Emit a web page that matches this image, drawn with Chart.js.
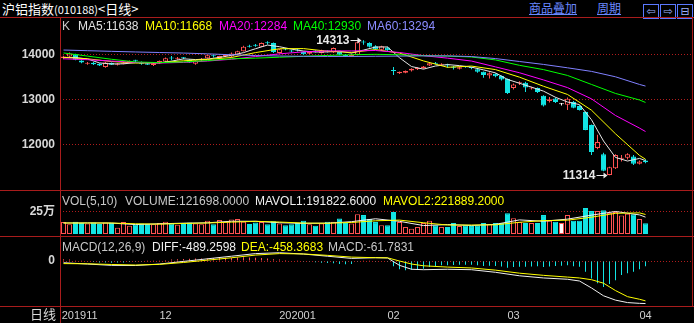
<!DOCTYPE html>
<html>
<head>
<meta charset="utf-8">
<script src="https://cdn.jsdelivr.net/npm/chart.js@4.4.1/dist/chart.umd.min.js"></script>
<style>
body { margin: 0; background: #000; width: 694px; height: 323px; overflow: hidden; position: relative; font-family: "Liberation Sans", Arial, sans-serif; }
canvas { position: absolute; left: 0; }
.txt { position: absolute; font-size: 12px; line-height: 14px; white-space: nowrap; }
.cjk { font-family: "Noto Sans CJK SC", sans-serif; }
.link { color: #6a88ff; text-decoration: underline; font-size: 12px; top: 1px; }
.ico { display: inline-block; width: 14px; height: 13px; border: 1px solid #5a78ff; color: #9fb2ff; font: 11px/13px "DejaVu Sans"; text-align: center; margin-right: 1px; }
.frame { position: absolute; background: #a81c1c; z-index: 5; }
</style>
</head>
<body>
<div class="txt cjk" style="left:2px;top:1px;font-size:13px;line-height:15px;color:#fff">沪铝指数<span style="font-size:11px">(010188)</span>&lt;日线&gt;</div>
<div class="txt cjk link" style="left:529px">商品叠加</div>
<div class="txt cjk link" style="left:597px">周期</div>
<div style="position:absolute;left:643px;top:1px;white-space:nowrap"><span class="ico">⇦</span><span class="ico">⇨</span><span class="ico">⊟</span></div>

<canvas id="mainChart" width="694" height="172" style="top:18px"></canvas>
<canvas id="volChart" width="694" height="45" style="top:191px"></canvas>
<canvas id="macdChart" width="694" height="86" style="top:237px"></canvas>

<div class="txt" style="left:62px;top:19px;color:#c8c8c8">K</div>
<div class="txt" style="left:78px;top:19px;color:#e0e0e0">MA5:11638</div>
<div class="txt" style="left:145px;top:19px;color:#ffff00">MA10:11668</div>
<div class="txt" style="left:219px;top:19px;color:#ff00ff">MA20:12284</div>
<div class="txt" style="left:293px;top:19px;color:#00ff00">MA40:12930</div>
<div class="txt" style="left:367px;top:19px;color:#8c8cff">MA60:13294</div>

<div class="txt" style="left:62px;top:194px;color:#c8c8c8">VOL(5,10)</div>
<div class="txt" style="left:125px;top:194px;color:#c8c8c8">VOLUME:121698.0000</div>
<div class="txt" style="left:255px;top:194px;color:#f0f0f0">MAVOL1:191822.6000</div>
<div class="txt" style="left:383px;top:194px;color:#ffff00">MAVOL2:221889.2000</div>

<div class="txt" style="left:62px;top:240px;color:#c8c8c8">MACD(12,26,9)</div>
<div class="txt" style="left:152px;top:240px;color:#f0f0f0">DIFF:-489.2598</div>
<div class="txt" style="left:241px;top:240px;color:#ffff00">DEA:-458.3683</div>
<div class="txt" style="left:328px;top:240px;color:#c8c8c8">MACD:-61.7831</div>

<div class="txt cjk" style="left:30px;top:307px;font-size:13px;color:#d8d8d8">日线</div>

<div class="frame" style="left:0;top:17px;width:694px;height:1px"></div>
<div class="frame" style="left:0;top:190px;width:694px;height:1px"></div>
<div class="frame" style="left:0;top:236px;width:694px;height:1px"></div>
<div class="frame" style="left:0;top:306px;width:694px;height:1px"></div>
<div class="frame" style="left:60px;top:17px;width:1px;height:306px"></div>
<div class="frame" style="left:692px;top:17px;width:1px;height:289px"></div>

<script>
// daily bars, 2019-11-07 .. 2020-04-01
const opens = [13910,13950,14000,13860,13790,13810,13790,13720,13810,13770,
    13790,13820,13860,13830,13800,13760,13800,13840,13915,13900,
    13915,13880,13790,13860,13910,13965,13920,13960,13950,13990,
    14070,14180,14200,14170,14255,14250,14030,14110,14080,14090,
    14050,14010,14065,14030,14070,14040,14050,13990,13960,13990,
    14280,14250,14180,14100,14150,13645,13580,13590,13640,13670,
    13690,13750,13810,13770,13760,13730,13680,13720,13700,13670,
    13610,13530,13570,13520,13450,13250,13355,13370,13240,13250,
    13080,12960,13020,12890,12880,12940,12850,12720,12430,11920,
    11780,11320,11470,11680,11700,11730,11570,11640];
const highs = [13970,14040,14010,13870,13830,13830,13800,13830,13820,13800,
    13830,13860,13880,13840,13810,13810,13860,13930,13960,13940,
    13940,13890,13870,13920,13990,13990,13970,13990,14040,14080,
    14190,14215,14230,14260,14290,14260,14120,14140,14100,14120,
    14060,14060,14090,14100,14090,14150,14060,14000,14010,14290,
    14313,14270,14200,14190,14170,13720,13620,13640,13690,13710,
    13740,13810,13830,13800,13790,13740,13730,13740,13720,13680,
    13620,13600,13580,13530,13460,13350,13400,13390,13280,13260,
    13090,13050,13040,12920,13040,12960,12870,12730,12440,12210,
    11810,11500,11780,11760,11800,11760,11640,11670];
const lows = [13890,13940,13870,13800,13770,13760,13740,13700,13760,13750,
    13780,13810,13830,13770,13760,13740,13790,13830,13870,13880,
    13890,13810,13770,13850,13900,13930,13900,13940,13930,13980,
    14060,14150,14170,14160,14220,14030,14020,14090,14040,14060,
    13990,14000,14040,14020,14040,14030,13980,13940,13940,13980,
    14210,14150,14100,14080,14080,13540,13560,13580,13620,13650,
    13680,13740,13780,13750,13700,13660,13660,13700,13670,13590,
    13480,13460,13490,13420,13120,13220,13320,13160,13220,13140,
    12840,12930,12920,12860,12760,12800,12750,12310,11760,11890,
    11400,11314,11450,11620,11660,11540,11550,11580];
const closes = [13950,14020,13880,13820,13810,13780,13750,13820,13770,13790,
    13810,13850,13855,13790,13770,13800,13850,13910,13905,13920,
    13910,13820,13860,13900,13980,13955,13960,13965,14020,14070,
    14170,14170,14190,14250,14245,14050,14110,14105,14060,14085,
    14000,14050,14060,14090,14065,14140,13990,13950,13990,14270,
    14265,14170,14110,14180,14090,13630,13610,13630,13680,13700,
    13730,13800,13790,13790,13750,13700,13710,13715,13695,13610,
    13540,13580,13510,13440,13140,13330,13360,13260,13265,13160,
    12860,13000,12940,12890,13010,12810,12760,12320,11830,12050,
    11410,11490,11760,11700,11780,11570,11620,11600];
const volumes = [135000,110000,140000,125000,120000,130000,115000,130000,125000,70000,
    135000,95000,110000,120000,115000,110000,125000,140000,120000,105000,
    125000,130000,120000,110000,150000,110000,160000,140000,165000,170000,
    140000,115000,130000,135000,110000,145000,120000,100000,110000,125000,
    150000,110000,95000,120000,140000,140000,175000,125000,120000,225000,
    215000,170000,135000,100000,100000,250000,135000,80000,60000,80000,
    125000,150000,100000,80000,80000,125000,90000,100000,90000,100000,
    125000,110000,125000,125000,235000,180000,135000,125000,125000,125000,
    215000,150000,140000,125000,215000,150000,150000,295000,260000,260000,
    270000,240000,250000,210000,230000,225000,170000,121698];

// moving averages
const ma5Idx = [0,2,4,6,8,10,12,14,16,18,20,22,24,26,28,30,32,34,36,38,40,42,44,46,48,
    50,52,54,56,58,60,62,64,66,68,70,72,74,76,78,80,82,84,86,88,90,92,94,96,97];
const ma5 = [13930,13930,13896,13808,13786,13788,13815,13815,13813,13847,
    13899,13883,13894,13931,13976,14037,14124,14205,14169,14114,
    14072,14051,14053,14069,14027,14093,14161,14163,13924,13728,
    13670,13740,13772,13748,13714,13654,13587,13442,13356,13271,
    13181,13045,12940,12882,12546,12074,11708,11628,11686,11638];
const maIdx = [0,4,8,12,16,20,24,28,32,36,40,44,48,52,56,60,64,68,72,76,80,84,88,92,96,97];
const ma10 = [13930,13900,13840,13806,13811,13856,13886,13929,14038,14124,14127,14068,14042,
    14104,14027,13853,13711,13738,13660,13492,13290,13108,12758,12233,11753,11668];
const ma20 = [13900,13880,13850,13820,13805,13820,13850,13890,13950,14010,14055,14075,14075,
    14085,14040,13970,13915,13850,13720,13590,13430,13260,13010,12640,12360,12284];
const ma40 = [14030,13960,13890,13830,13815,13830,13860,13900,13915,13935,13955,13975,13990,
    14000,13990,13970,13960,13940,13875,13755,13660,13530,13330,13130,12985,12930];
const ma60 = [14095,14080,14066,14052,14040,14028,14010,13990,13972,13962,13955,13952,13952,
    13956,13960,13965,13965,13950,13905,13840,13775,13700,13620,13500,13330,13294];
const mavol1 = [125000,126000,124000,107000,116000,123000,127000,145000,144000,128000,121000,123000,140000,
    173000,144000,96000,107000,97000,110000,160000,145000,169000,214000,256000,217000,191822.6];
const mavol2 = [125000,125000,125000,116000,112000,120000,125000,135000,144000,136000,124000,122000,131000,
    150000,158000,128000,102000,102000,104000,133000,152000,157000,191000,235000,240000,221889.2];

const macdIdx = [0,4,8,12,16,20,24,28,32,36,40,44,48,52,54,56,58,60,64,68,72,76,80,84,86,88,90,92,94,96,97];
const diffVals = [-20,-35,-50,-52,-35,-5,25,55,85,95,80,55,30,38,35,-50,-95,-100,-95,-100,
    -130,-170,-195,-210,-230,-310,-400,-450,-478,-487,-489.26];
const deaVals = [-30,-32,-40,-46,-39,-17,10,37,68,85,81,65,45,38,37,0,-35,-55,-70,-80,
    -105,-140,-165,-185,-195,-215,-255,-340,-410,-440,-458.37];
const macdHist = [20,18,10,2,-6,-12,-18,-16,-20,-18,
    -16,-12,-10,-4,2,4,8,12,16,20,
    24,26,28,30,32,34,36,36,38,40,
    42,40,36,34,30,20,18,12,6,2,
    -2,-8,-14,-20,-24,-26,-34,-38,-34,-10,
    4,2,-4,-6,-8,-60,-95,-105,-100,-95,
    -88,-70,-58,-50,-48,-46,-44,-42,-44,-50,
    -58,-56,-58,-62,-78,-70,-66,-66,-62,-60,
    -68,-62,-58,-56,-50,-60,-66,-125,-200,-255,
    -300,-265,-220,-160,-140,-125,-95,-61.78];

const xLabelPos = [2.7, 17, 39, 55, 75, 97];
const xLabelText = ['201911', '12', '202001', '02', '03', '04'];
const priceTicks = [12000, 13000, 14000];
const volTicks = [250000];
const macdTicks = [0];

const UP = '#ff5252', DOWN = '#12e4e4', FLAT = '#ffffff', GRID = '#b01c1c';
const X_MIN = -0.5833, X_MAX = 104.75;

Chart.defaults.font.family = '"Liberation Sans", "Noto Sans CJK SC", sans-serif';
Chart.defaults.animation = false;

function barColor(i) {
    if (closes[i] > opens[i]) return UP;
    if (closes[i] < opens[i]) return DOWN;
    return FLAT;
}
const colors = closes.map((c, i) => barColor(i));
const fills = colors.map(c => c === UP ? '#000' : c);

function series(idx, vals) {
    return idx.map((x, k) => ({x: x, y: vals[k]}));
}

function lineSet(data, color) {
    return {type: 'line', data: data, borderColor: color, borderWidth: 1, pointRadius: 0, tension: 0, order: 0};
}

function xAxis(show) {
    return {
        type: 'linear', min: X_MIN, max: X_MAX, display: show, offset: false,
        grid: {display: false, drawTicks: false}, border: {display: false},
        afterBuildTicks: s => { s.ticks = xLabelPos.map(v => ({value: v})); },
        afterFit: s => { s.height = show ? 17 : 0; s.paddingLeft = 0; s.paddingRight = 0; },
        ticks: {
            color: '#d0d0d0', font: {size: 11}, padding: 3, autoSkip: false, maxRotation: 0,
            callback: v => xLabelText[xLabelPos.indexOf(v)]
        }
    };
}

function yAxis(min, max, ticks, label) {
    return {
        position: 'left', min: min, max: max,
        afterBuildTicks: s => { s.ticks = ticks.map(v => ({value: v})); },
        afterFit: s => { s.width = 60; s.paddingTop = 0; s.paddingBottom = 0; },
        grid: {color: GRID, drawTicks: false},
        border: {display: false, dash: [1, 2]},
        ticks: {color: '#d8d8d8', font: {size: 12, weight: 'bold'}, padding: 5, callback: label}
    };
}

function baseOptions(scales) {
    return {
        responsive: false,
        events: [],
        layout: {padding: {left: 0, right: 2, top: 0, bottom: 0}},
        scales: scales,
        plugins: {legend: {display: false}, tooltip: {enabled: false}}
    };
}

// high / low labels with a small arrow
const extremaPlugin = {
    id: 'extrema',
    afterDatasetsDraw(chart) {
        const ctx = chart.ctx, xs = chart.scales.x, ys = chart.scales.y;
        const hi = Math.max(...highs), lo = Math.min(...lows);
        [[highs.indexOf(hi), hi], [lows.indexOf(lo), lo]].forEach(([i, v]) => {
            const x = xs.getPixelForValue(i);
            const y = Math.round(ys.getPixelForValue(v)) + 0.5;
            ctx.save();
            ctx.strokeStyle = ctx.fillStyle = '#e8e8e8';
            ctx.lineWidth = 1;
            ctx.beginPath();
            ctx.moveTo(x - 13, y);
            ctx.lineTo(x - 3, y);
            ctx.stroke();
            ctx.beginPath();
            ctx.moveTo(x - 2, y);
            ctx.lineTo(x - 6, y - 3);
            ctx.lineTo(x - 6, y + 3);
            ctx.fill();
            ctx.font = 'bold 12px "Liberation Sans"';
            ctx.textAlign = 'right';
            ctx.textBaseline = 'middle';
            ctx.fillText(String(v), x - 14, y);
            ctx.restore();
        });
    }
};

function createMainChart() {
    const ctx = document.getElementById('mainChart').getContext('2d');
    return new Chart(ctx, {
        type: 'bar',
        data: {
            datasets: [
                {
                    data: highs.map((h, i) => ({x: i, y: [lows[i], h]})),
                    backgroundColor: colors, barThickness: 1, grouped: false, inflateAmount: 0, order: 3
                },
                {
                    data: opens.map((o, i) => ({x: i, y: [o, closes[i]]})),
                    backgroundColor: fills, borderColor: colors, borderWidth: 1, borderSkipped: false,
                    barThickness: 5, minBarLength: 1, grouped: false, inflateAmount: 0, order: 2
                },
                lineSet(series(maIdx, ma60), '#8080ff'),
                lineSet(series(maIdx, ma40), '#00ff00'),
                lineSet(series(maIdx, ma20), '#ff00ff'),
                lineSet(series(maIdx, ma10), '#ffff00'),
                lineSet(series(ma5Idx, ma5), '#e6e6e6')
            ]
        },
        options: baseOptions({x: xAxis(false), y: yAxis(10984.4, 14806.7, priceTicks, v => String(v))}),
        plugins: [extremaPlugin]
    });
}

function createVolChart() {
    const ctx = document.getElementById('volChart').getContext('2d');
    return new Chart(ctx, {
        type: 'bar',
        data: {
            datasets: [
                {
                    data: volumes.map((v, i) => ({x: i, y: v})),
                    backgroundColor: fills, borderColor: colors.map(c => c === FLAT ? UP : c),
                    borderWidth: 1, borderSkipped: false, barThickness: 5, grouped: false, inflateAmount: 0, order: 2
                },
                lineSet(series(maIdx, mavol2), '#ffff00'),
                lineSet(series(maIdx, mavol1), '#f0f0f0')
            ]
        },
        options: baseOptions({x: xAxis(false), y: yAxis(-22727, 488636, volTicks, () => '25万')})
    });
}

function createMacdChart() {
    const ctx = document.getElementById('macdChart').getContext('2d');
    return new Chart(ctx, {
        type: 'bar',
        data: {
            datasets: [
                {
                    data: macdHist.map((v, i) => ({x: i, y: v})),
                    backgroundColor: macdHist.map(v => v >= 0 ? UP : DOWN),
                    barThickness: 1, grouped: false, inflateAmount: 0, order: 2
                },
                lineSet(series(macdIdx, deaVals), '#ffff00'),
                lineSet(series(macdIdx, diffVals), '#f0f0f0')
            ]
        },
        options: baseOptions({x: xAxis(true), y: yAxis(-517.5, 276, macdTicks, v => String(v))})
    });
}

createMainChart();
createVolChart();
createMacdChart();
</script>
</body>
</html>
